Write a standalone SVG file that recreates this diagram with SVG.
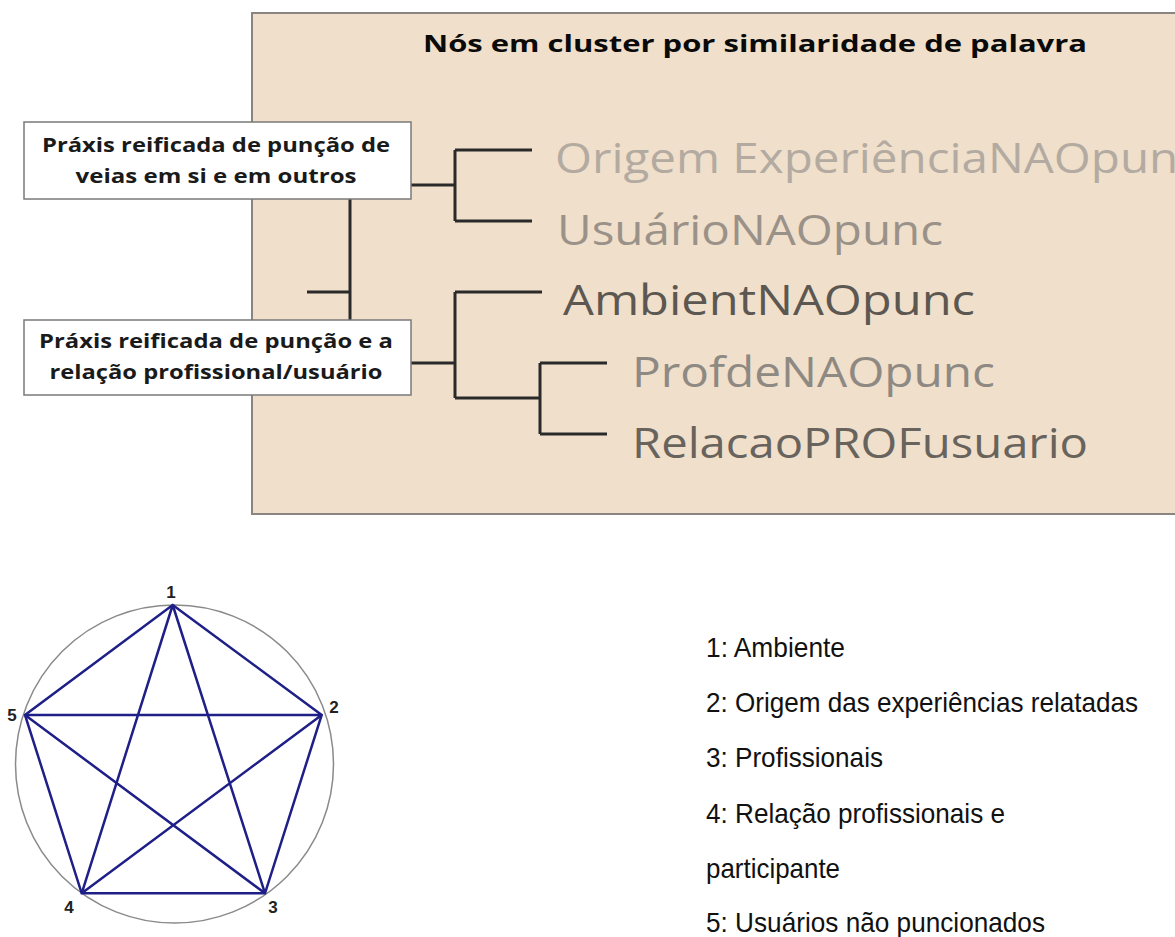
<svg xmlns="http://www.w3.org/2000/svg" width="1175" height="937" viewBox="0 0 1175 937">
<style>
.box{fill:#ffffff;stroke:#7a7a7a;stroke-width:1.5}
.bt{font-family:"Open Sans","DejaVu Sans",sans-serif;font-weight:bold;font-size:20px;fill:#1a1a1a;text-anchor:middle}
.lbl{font-family:"Open Sans","DejaVu Sans",sans-serif;font-size:42px}
.con{fill:none;stroke:#2a2a2a;stroke-width:3}
.edge{stroke:#1f1f88;stroke-width:2.5;fill:none}
.num{font-family:"Liberation Sans",Arial,sans-serif;font-weight:bold;font-size:17px;fill:#222;text-anchor:middle}
.leg{font-family:"Liberation Sans",Arial,sans-serif;font-size:28px;fill:#111}
</style>
<rect width="1175" height="937" fill="#ffffff"/>
<g id="panel">
<rect x="252" y="13" width="940" height="501" fill="#F0DFCA" stroke="#8a8580" stroke-width="2"/>
<text x="755" y="52" font-family="'Open Sans','DejaVu Sans',sans-serif" font-weight="bold" font-size="23" fill="#0a0a0a" text-anchor="middle" textLength="664" lengthAdjust="spacingAndGlyphs">Nós em cluster por similaridade de palavra</text>
</g>
<g id="connectors">
<path class="con" d="M411 185 H455 M455 150 V221 M455 150 H532 M455 221 H532"/>
<path class="con" d="M350 199 V320 M307 292 H350"/>
<path class="con" d="M411 363 H455 M455 292 V398 M455 292 H542 M455 398 H540 M540 363 V434 M540 363 H607 M540 434 H607"/>
</g>
<g id="node-box1">
<rect class="box" x="24" y="122" width="387" height="77"/>
<text class="bt" x="216" y="152" textLength="348" lengthAdjust="spacingAndGlyphs">Práxis reificada de punção de</text>
<text class="bt" x="216" y="183" textLength="281" lengthAdjust="spacingAndGlyphs">veias em si e em outros</text>
</g>
<g id="node-box2">
<rect class="box" x="24" y="320" width="387" height="75"/>
<text class="bt" x="216" y="348" textLength="354" lengthAdjust="spacingAndGlyphs">Práxis reificada de punção e a</text>
<text class="bt" x="216" y="379" textLength="333" lengthAdjust="spacingAndGlyphs">relação profissional/usuário</text>
</g>
<g id="node-origem"><text class="lbl" x="555" y="173" fill="#B3ABA1" textLength="646" lengthAdjust="spacingAndGlyphs">Origem ExperiênciaNAOpunc</text></g>
<g id="node-usuario"><text class="lbl" x="557" y="245" fill="#9A9289" textLength="386" lengthAdjust="spacingAndGlyphs">UsuárioNAOpunc</text></g>
<g id="node-ambient"><text class="lbl" x="563" y="315" fill="#5C5751" textLength="412" lengthAdjust="spacingAndGlyphs">AmbientNAOpunc</text></g>
<g id="node-profde"><text class="lbl" x="632" y="387" fill="#8E8983" textLength="363" lengthAdjust="spacingAndGlyphs">ProfdeNAOpunc</text></g>
<g id="node-relacao"><text class="lbl" x="632" y="458" fill="#68635D" textLength="456" lengthAdjust="spacingAndGlyphs">RelacaoPROFusuario</text></g>
<g id="graph">
<circle cx="174.5" cy="764" r="159" fill="none" stroke="#8a8a8a" stroke-width="1.5"/>
<g id="edges">
<path class="edge" d="M172.7 605 L321.7 715 L265 893.3 L81.7 893.3 L25 715 Z"/>
<path class="edge" d="M172.7 605 L265 893.3 M172.7 605 L81.7 893.3 M25 715 L321.7 715 M25 715 L265 893.3 M321.7 715 L81.7 893.3"/>
</g>
<g id="v1"><text class="num" x="171" y="598">1</text></g>
<g id="v2"><text class="num" x="334" y="713">2</text></g>
<g id="v3"><text class="num" x="273" y="913">3</text></g>
<g id="v4"><text class="num" x="69" y="913">4</text></g>
<g id="v5"><text class="num" x="12" y="721">5</text></g>
</g>
<g id="legend">
<text class="leg" x="706" y="657" textLength="139" lengthAdjust="spacingAndGlyphs">1: Ambiente</text>
<text class="leg" x="706" y="712" textLength="432" lengthAdjust="spacingAndGlyphs">2: Origem das experiências relatadas</text>
<text class="leg" x="706" y="767" textLength="177" lengthAdjust="spacingAndGlyphs">3: Profissionais</text>
<text class="leg" x="706" y="823" textLength="299" lengthAdjust="spacingAndGlyphs">4: Relação profissionais e</text>
<text class="leg" x="706" y="878" textLength="134" lengthAdjust="spacingAndGlyphs">participante</text>
<text class="leg" x="706" y="932" textLength="339" lengthAdjust="spacingAndGlyphs">5: Usuários não puncionados</text>
</g>
</svg>
